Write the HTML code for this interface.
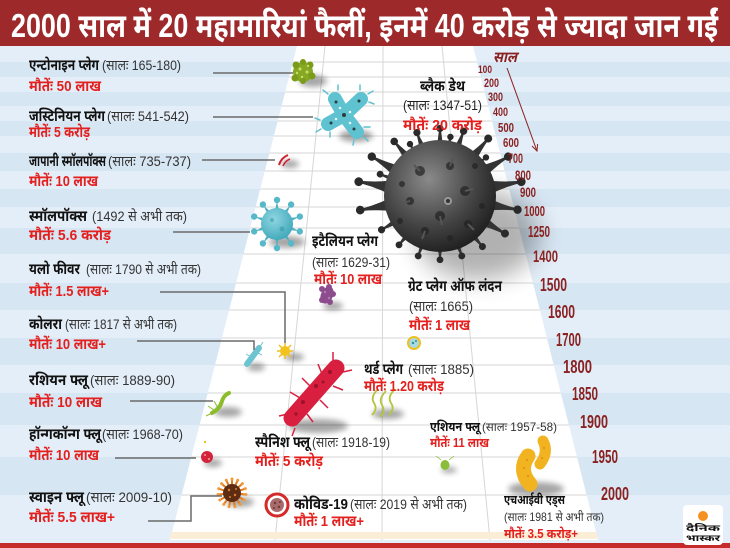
<!DOCTYPE html>
<html><head><meta charset="utf-8"><style>
html,body{margin:0;padding:0;background:#dfebf6;}
svg{display:block;}
text{font-family:"Liberation Sans","Noto Sans Devanagari","Lohit Devanagari",sans-serif;}
.n{font-weight:bold;fill:#111;font-size:15px;}
.p{fill:#333;font-size:14px;}
.d{font-weight:bold;fill:#e3201e;font-size:15px;}
.y{font-weight:bold;fill:#8a2222;}
</style></head><body>
<svg width="730" height="548" viewBox="0 0 730 548" xmlns="http://www.w3.org/2000/svg">
<defs>
<filter id="bl" x="-50%" y="-50%" width="200%" height="200%"><feGaussianBlur stdDeviation="3"/></filter>
<filter id="bl2" x="-50%" y="-50%" width="200%" height="200%"><feGaussianBlur stdDeviation="12"/></filter>
<clipPath id="road"><polygon points="297,46 473,46 598,540 170,540"/></clipPath>
<radialGradient id="bd" cx="0.4" cy="0.35" r="0.7"><stop offset="0" stop-color="#8a8a8a"/><stop offset="0.6" stop-color="#444"/><stop offset="1" stop-color="#1c1c1c"/></radialGradient>
<radialGradient id="cy" cx="0.4" cy="0.35" r="0.7"><stop offset="0" stop-color="#8fd6e2"/><stop offset="1" stop-color="#3fa7b9"/></radialGradient>
<g id="sp"><path d="M-5,-50 Q-2,-62 -1,-74 L1,-74 Q2,-62 5,-50 Z" fill="#333"/><circle cx="0" cy="-75" r="4" fill="#2a2a2a"/></g>
<g id="sps"><path d="M-2,-13 L0,-23 L2,-13 Z" fill="#4fb0c2"/><circle cx="0" cy="-24" r="3.2" fill="#56b8c8"/></g>
<g id="spw"><line x1="0" y1="-8" x2="0" y2="-14" stroke="#e07b22" stroke-width="2"/><circle cx="0" cy="-14" r="1.5" fill="#f29a35"/></g>
</defs>

<!-- background stripes -->
<rect x="0" y="46" width="730" height="502" fill="#e4eef8"/>
<g fill="#d7e6f3">
<rect x="0" y="62" width="730" height="15"/>
<rect x="0" y="92" width="730" height="14"/>
<rect x="0" y="121" width="730" height="15"/>
<rect x="0" y="153" width="730" height="18"/>
<rect x="0" y="189" width="730" height="18"/>
<rect x="0" y="228" width="730" height="26"/>
<rect x="0" y="283" width="730" height="27"/>
<rect x="0" y="338" width="730" height="27"/>
<rect x="0" y="393" width="730" height="32"/>
<rect x="0" y="457" width="730" height="38"/>
</g>

<!-- road -->
<polygon points="297,46 473,46 598,540 170,540" fill="#ffffff"/>
<g clip-path="url(#road)" stroke="#d6d6d6" stroke-width="1">
<line x1="0" y1="62" x2="730" y2="62"/><line x1="0" y1="77" x2="730" y2="77"/>
<line x1="0" y1="92" x2="730" y2="92"/><line x1="0" y1="106" x2="730" y2="106"/>
<line x1="0" y1="121" x2="730" y2="121"/><line x1="0" y1="136" x2="730" y2="136"/>
<line x1="0" y1="153" x2="730" y2="153"/><line x1="0" y1="171" x2="730" y2="171"/>
<line x1="0" y1="189" x2="730" y2="189"/><line x1="0" y1="207" x2="730" y2="207"/>
<line x1="0" y1="228" x2="730" y2="228"/><line x1="0" y1="254" x2="730" y2="254"/>
<line x1="0" y1="283" x2="730" y2="283"/><line x1="0" y1="310" x2="730" y2="310"/>
<line x1="0" y1="338" x2="730" y2="338"/><line x1="0" y1="365" x2="730" y2="365"/>
<line x1="0" y1="393" x2="730" y2="393"/><line x1="0" y1="425" x2="730" y2="425"/>
<line x1="0" y1="457" x2="730" y2="457"/><line x1="0" y1="495" x2="730" y2="495"/>
<line x1="325" y1="46" x2="275" y2="540"/><line x1="383" y1="46" x2="382" y2="540"/><line x1="442" y1="46" x2="490" y2="540"/>
</g>
<polygon points="171.5,532 596,532 597.7,539 169.7,539" fill="#fbedd6"/>
<rect x="0" y="543" width="730" height="5" fill="#c62b2b"/>

<!-- header -->
<rect x="0" y="0" width="730" height="46" fill="#9e292b"/>
<text x="11" y="37" font-size="33" font-weight="bold" fill="#ffffff" textLength="707" lengthAdjust="spacingAndGlyphs">2000 साल में 20 महामारियां फैलीं, इनमें 40 करोड़ से ज्यादा जान गईं</text>

<!-- shadows -->
<g fill="#000" opacity="0.35" filter="url(#bl)">
<ellipse cx="313" cy="81" rx="14" ry="6"/>
<ellipse cx="356" cy="136" rx="17" ry="6"/>
<ellipse cx="290" cy="164" rx="9" ry="4"/>
<ellipse cx="287" cy="242" rx="18" ry="6"/>
<ellipse cx="333" cy="306" rx="10" ry="4"/>
<ellipse cx="294" cy="357" rx="10" ry="4"/>
<ellipse cx="256" cy="367" rx="9" ry="4"/>
<ellipse cx="318" cy="426" rx="30" ry="7"/>
<ellipse cx="388" cy="414" rx="16" ry="5"/>
<ellipse cx="228" cy="412" rx="14" ry="5"/>
<ellipse cx="213" cy="463" rx="9" ry="4"/>
<ellipse cx="449" cy="470" rx="8" ry="3"/>
<ellipse cx="536" cy="489" rx="28" ry="7"/>
<ellipse cx="240" cy="502" rx="14" ry="5"/>
</g>
<ellipse cx="478" cy="235" rx="62" ry="45" fill="#000" opacity="0.3" filter="url(#bl2)"/>

<!-- black death -->
<g transform="translate(440,196)">
<use href="#sp" transform="rotate(0) scale(0.9)"/><use href="#sp" transform="rotate(20) scale(0.92)"/>
<use href="#sp" transform="rotate(40) scale(1)"/><use href="#sp" transform="rotate(60) scale(1.05)"/>
<use href="#sp" transform="rotate(80) scale(1.1)"/><use href="#sp" transform="rotate(100) scale(1.05)"/>
<use href="#sp" transform="rotate(120) scale(1)"/><use href="#sp" transform="rotate(140) scale(0.88)"/>
<use href="#sp" transform="rotate(160) scale(0.85)"/><use href="#sp" transform="rotate(180) scale(0.85)"/>
<use href="#sp" transform="rotate(200) scale(0.85)"/><use href="#sp" transform="rotate(220) scale(0.85)"/>
<use href="#sp" transform="rotate(240) scale(0.9)"/><use href="#sp" transform="rotate(260) scale(1.08)"/>
<use href="#sp" transform="rotate(280) scale(1.1)"/><use href="#sp" transform="rotate(300) scale(1.05)"/>
<use href="#sp" transform="rotate(320) scale(0.95)"/><use href="#sp" transform="rotate(340) scale(0.9)"/>
<use href="#sp" transform="rotate(10) scale(0.8)"/><use href="#sp" transform="rotate(50) scale(0.8)"/>
<use href="#sp" transform="rotate(290) scale(0.85)"/><use href="#sp" transform="rotate(330) scale(0.8)"/>
<circle cx="0" cy="0" r="56" fill="url(#bd)"/>
<g fill="#222" opacity="0.7">
<circle cx="-20" cy="-25" r="5"/><circle cx="10" cy="-30" r="4"/><circle cx="25" cy="-5" r="5"/>
<circle cx="-30" cy="5" r="4"/><circle cx="0" cy="20" r="5"/><circle cx="-15" cy="35" r="4"/>
<circle cx="28" cy="28" r="4"/><circle cx="-38" cy="-12" r="3"/><circle cx="35" cy="-30" r="3"/>
<circle cx="-40" cy="25" r="3"/><circle cx="42" cy="10" r="3"/><circle cx="10" cy="42" r="3"/>
</g>
<g stroke="#555" stroke-width="2" fill="none">
<path d="M-20,-25 l-6,-6"/><path d="M10,-30 l3,-8"/><path d="M25,-5 l8,-2"/><path d="M0,20 l2,9"/>
<path d="M-30,5 l-8,2"/><path d="M28,28 l6,6"/><path d="M-15,35 l-3,8"/>
</g>
<circle cx="8" cy="5" r="4" fill="#999"/><circle cx="8" cy="5" r="2" fill="#333"/>
</g>

<!-- Antonine -->
<g>
<circle cx="303" cy="72" r="10" fill="#86a822"/>
<g fill="#7b9b1a"><circle cx="296" cy="65" r="3.5"/><circle cx="310" cy="65" r="3.5"/><circle cx="312" cy="76" r="3.5"/><circle cx="295" cy="78" r="3.5"/><circle cx="303" cy="81" r="3"/><circle cx="303" cy="62" r="3"/></g>
<g fill="#c8de6a"><circle cx="300" cy="69" r="1.5"/><circle cx="307" cy="72" r="1.5"/><circle cx="302" cy="77" r="1.2"/><circle cx="297" cy="73" r="1.2"/><circle cx="308" cy="66" r="1.2"/></g>
</g>

<!-- Justinian -->
<g stroke="#5ec2d0" stroke-linecap="round">
<line x1="344" y1="115" x2="335" y2="99" stroke-width="14"/>
<line x1="344" y1="115" x2="361" y2="99" stroke-width="14"/>
<line x1="344" y1="115" x2="328" y2="124" stroke-width="14"/>
<line x1="344" y1="115" x2="357" y2="132" stroke-width="14"/>
<g stroke-width="1.5">
<line x1="328" y1="94" x2="323" y2="90"/><line x1="338" y1="90" x2="338" y2="85"/><line x1="360" y1="90" x2="360" y2="85"/>
<line x1="368" y1="94" x2="373" y2="91"/><line x1="369" y1="102" x2="374" y2="104"/><line x1="320" y1="120" x2="315" y2="118"/>
<line x1="321" y1="129" x2="316" y2="132"/><line x1="330" y1="132" x2="330" y2="137"/><line x1="364" y1="137" x2="368" y2="141"/>
<line x1="354" y1="140" x2="353" y2="145"/><line x1="364" y1="127" x2="370" y2="127"/><line x1="352" y1="104" x2="356" y2="100"/>
</g>
</g>
<circle cx="344" cy="115" r="9" fill="#5ec2d0"/>
<g fill="#2d3a40"><circle cx="344" cy="115" r="2"/><circle cx="336" cy="102" r="1.5"/><circle cx="359" cy="101" r="1.5"/><circle cx="331" cy="123" r="1.5"/><circle cx="354" cy="129" r="1.5"/></g>
<g fill="#e8f8fa"><circle cx="340" cy="108" r="1.3"/><circle cx="350" cy="112" r="1.3"/><circle cx="336" cy="119" r="1.3"/><circle cx="350" cy="123" r="1.3"/></g>

<!-- Japanese smallpox -->
<path d="M279,165 q2,-7 9,-10" stroke="#d21f30" stroke-width="2" fill="none"/>
<path d="M283,166 q2,-5 7,-7" stroke="#d21f30" stroke-width="1.5" fill="none"/>

<!-- Smallpox -->
<g transform="translate(277,224)">
<use href="#sps" transform="rotate(0)"/><use href="#sps" transform="rotate(36)"/><use href="#sps" transform="rotate(72)"/>
<use href="#sps" transform="rotate(108)"/><use href="#sps" transform="rotate(144)"/><use href="#sps" transform="rotate(180)"/>
<use href="#sps" transform="rotate(216)"/><use href="#sps" transform="rotate(252)"/><use href="#sps" transform="rotate(288)"/><use href="#sps" transform="rotate(324)"/>
<circle cx="0" cy="0" r="16" fill="url(#cy)"/>
<circle cx="-5" cy="-4" r="2" fill="#3a98aa" opacity="0.6"/><circle cx="5" cy="5" r="2.5" fill="#3a98aa" opacity="0.6"/>
</g>

<!-- Italian plague -->
<g fill="#8c4c8e">
<ellipse cx="327" cy="295" rx="6" ry="9" transform="rotate(25 327 295)"/>
<circle cx="322" cy="289" r="3"/><circle cx="329" cy="287" r="3"/><circle cx="333" cy="294" r="3"/><circle cx="330" cy="302" r="3"/><circle cx="322" cy="300" r="3"/>
</g>
<g fill="#b27bb3"><circle cx="325" cy="292" r="1.2"/><circle cx="329" cy="298" r="1.2"/></g>

<!-- Great plague London -->
<circle cx="414" cy="343" r="6" fill="#a6dbe4" stroke="#f0c020" stroke-width="2"/>
<circle cx="413" cy="343" r="1.2" fill="#3b8a98"/><circle cx="416" cy="341" r="1" fill="#3b8a98"/>

<!-- Yellow fever -->
<g stroke="#f0be18" stroke-width="1.5">
<line x1="285" y1="343" x2="285" y2="359"/><line x1="277" y1="351" x2="293" y2="351"/><line x1="279" y1="345" x2="291" y2="357"/><line x1="291" y1="345" x2="279" y2="357"/>
</g>
<circle cx="285" cy="351" r="5" fill="#f3c21b"/>

<!-- Cholera -->
<line x1="247" y1="364" x2="259" y2="348" stroke="#6cc4d1" stroke-width="6" stroke-linecap="round"/>
<g stroke="#6cc4d1" stroke-width="1"><line x1="259" y1="348" x2="263" y2="342"/><line x1="256" y1="352" x2="262" y2="355"/><line x1="251" y1="357" x2="246" y2="354"/></g>

<!-- Spanish flu -->
<g stroke="#d81f40" stroke-width="1.5">
<line x1="300" y1="398" x2="290" y2="392"/><line x1="310" y1="386" x2="302" y2="378"/><line x1="322" y1="374" x2="318" y2="364"/>
<line x1="333" y1="362" x2="333" y2="352"/><line x1="343" y1="372" x2="352" y2="370"/><line x1="333" y1="386" x2="343" y2="390"/>
<line x1="320" y1="400" x2="328" y2="408"/><line x1="307" y1="414" x2="313" y2="422"/><line x1="288" y1="414" x2="279" y2="416"/>
<line x1="295" y1="428" x2="292" y2="436"/>
</g>
<line x1="292" y1="418" x2="336" y2="368" stroke="#d81f40" stroke-width="17" stroke-linecap="round"/>
<g fill="#a01028"><circle cx="330" cy="372" r="2"/><circle cx="316" cy="386" r="2"/><circle cx="303" cy="402" r="2"/><circle cx="296" cy="414" r="1.6"/><circle cx="323" cy="382" r="1.5"/></g>

<!-- Third plague -->
<g stroke="#b3c63c" stroke-width="1.8" fill="none">
<path d="M372,415 q6,-6 2,-12 q-4,-6 4,-14"/>
<path d="M380,417 q6,-6 2,-12 q-4,-6 4,-14"/>
<path d="M389,415 q6,-6 2,-12 q-4,-6 4,-14"/>
</g>

<!-- Russian flu -->
<path d="M212,413 q8,-4 10,-12 q2,-6 7,-8" stroke="#8bbd2a" stroke-width="4" fill="none" stroke-linecap="round"/>
<g stroke="#8bbd2a" stroke-width="1"><line x1="214" y1="410" x2="208" y2="406"/><line x1="218" y1="408" x2="214" y2="401"/><line x1="212" y1="413" x2="206" y2="416"/></g>

<!-- Hong Kong -->
<circle cx="205" cy="442" r="1.2" fill="#f0c020"/>
<circle cx="207" cy="457" r="6" fill="#d4233a"/>
<g fill="#f0a0a0"><circle cx="205" cy="455" r="1"/><circle cx="209" cy="459" r="1"/></g>

<!-- Asian flu -->
<g stroke="#8cbd3a" stroke-width="0.8"><line x1="441" y1="460" x2="436" y2="456"/><line x1="449" y1="460" x2="454" y2="456"/></g>
<ellipse cx="445" cy="465" rx="4.5" ry="5" fill="#8cbd3a"/>

<!-- HIV -->
<path d="M528,456 Q518,470 530,484" stroke="#f2b320" stroke-width="15" fill="none" stroke-linecap="round"/>
<path d="M543,441 Q549,452 540,464" stroke="#f2b320" stroke-width="11" fill="none" stroke-linecap="round"/>
<g fill="#e08a1a"><circle cx="524" cy="468" r="1"/><circle cx="528" cy="476" r="1"/><circle cx="527" cy="460" r="1"/><circle cx="544" cy="448" r="1"/><circle cx="542" cy="458" r="1"/></g>

<!-- Swine flu -->
<g transform="translate(232,493)">
<use href="#spw" transform="rotate(0)"/><use href="#spw" transform="rotate(24)"/><use href="#spw" transform="rotate(48)"/>
<use href="#spw" transform="rotate(72)"/><use href="#spw" transform="rotate(96)"/><use href="#spw" transform="rotate(120)"/>
<use href="#spw" transform="rotate(144)"/><use href="#spw" transform="rotate(168)"/><use href="#spw" transform="rotate(192)"/>
<use href="#spw" transform="rotate(216)"/><use href="#spw" transform="rotate(240)"/><use href="#spw" transform="rotate(264)"/>
<use href="#spw" transform="rotate(288)"/><use href="#spw" transform="rotate(312)"/><use href="#spw" transform="rotate(336)"/>
<circle cx="0" cy="0" r="9" fill="#5e2c12"/>
<g fill="#e0802a"><circle cx="-3" cy="-3" r="1.2"/><circle cx="3" cy="2" r="1.2"/><circle cx="-2" cy="4" r="1"/><circle cx="4" cy="-4" r="1"/></g>
</g>

<!-- Covid -->
<circle cx="277" cy="505" r="11" fill="#fff" stroke="#d42a2a" stroke-width="3"/>
<circle cx="277" cy="505" r="7" fill="#a86a6a"/>
<g fill="#6d3a3a"><circle cx="275" cy="503" r="1.2"/><circle cx="279" cy="507" r="1.2"/><circle cx="280" cy="502" r="1"/><circle cx="274" cy="508" r="1"/></g>

<!-- connectors -->
<g stroke="#6a6a6a" stroke-width="1.5" fill="none">
<line x1="213" y1="73" x2="293" y2="73"/>
<line x1="213" y1="117" x2="313" y2="117"/>
<line x1="202" y1="160" x2="275" y2="160"/>
<line x1="173" y1="232" x2="250" y2="232"/>
<polyline points="160,292 285,292 285,343"/>
<polyline points="137,341 254,341 254,350"/>
<line x1="130" y1="401" x2="213" y2="401"/>
<line x1="115" y1="458" x2="196" y2="458"/>
<polyline points="148,521 191,521 191,496 222,496"/>
</g>

<!-- left labels -->
<text class="n" x="29" y="70" textLength="70" lengthAdjust="spacingAndGlyphs">एन्टोनाइन प्लेग</text>
<text class="p" x="102" y="70" textLength="79" lengthAdjust="spacingAndGlyphs">(सालः 165-180)</text>
<text class="d" x="29" y="91" textLength="72" lengthAdjust="spacingAndGlyphs">मौतेंः 50 लाख</text>

<text class="n" x="29" y="121" textLength="76" lengthAdjust="spacingAndGlyphs">जस्टिनियन प्लेग</text>
<text class="p" x="107" y="121" textLength="82" lengthAdjust="spacingAndGlyphs">(सालः 541-542)</text>
<text class="d" x="29" y="137" textLength="61" lengthAdjust="spacingAndGlyphs">मौतेंः 5 करोड़</text>

<text class="n" x="29" y="166" textLength="77" lengthAdjust="spacingAndGlyphs">जापानी स्मॉलपॉक्स</text>
<text class="p" x="108" y="166" textLength="83" lengthAdjust="spacingAndGlyphs">(सालः 735-737)</text>
<text class="d" x="29" y="186" textLength="69" lengthAdjust="spacingAndGlyphs">मौतेंः 10 लाख</text>

<text class="n" x="29" y="221" textLength="58" lengthAdjust="spacingAndGlyphs">स्मॉलपॉक्स</text>
<text class="p" x="92" y="221" textLength="95" lengthAdjust="spacingAndGlyphs">(1492 से अभी तक)</text>
<text class="d" x="29" y="240" textLength="82" lengthAdjust="spacingAndGlyphs">मौतेंः 5.6 करोड़</text>

<text class="n" x="29" y="274" textLength="51" lengthAdjust="spacingAndGlyphs">यलो फीवर</text>
<text class="p" x="86" y="274" textLength="115" lengthAdjust="spacingAndGlyphs">(सालः 1790 से अभी तक)</text>
<text class="d" x="29" y="296" textLength="80" lengthAdjust="spacingAndGlyphs">मौतेंः 1.5 लाख+</text>

<text class="n" x="29" y="329" textLength="33" lengthAdjust="spacingAndGlyphs">कोलरा</text>
<text class="p" x="65" y="329" textLength="112" lengthAdjust="spacingAndGlyphs">(सालः 1817 से अभी तक)</text>
<text class="d" x="29" y="349" textLength="77" lengthAdjust="spacingAndGlyphs">मौतेंः 10 लाख+</text>

<text class="n" x="29" y="385" textLength="59" lengthAdjust="spacingAndGlyphs">रशियन फ्लू</text>
<text class="p" x="90" y="385" textLength="85" lengthAdjust="spacingAndGlyphs">(सालः 1889-90)</text>
<text class="d" x="29" y="407" textLength="73" lengthAdjust="spacingAndGlyphs">मौतेंः 10 लाख</text>

<text class="n" x="29" y="439" textLength="72" lengthAdjust="spacingAndGlyphs">हॉन्गकॉन्ग फ्लू</text>
<text class="p" x="102" y="439" textLength="81" lengthAdjust="spacingAndGlyphs">(सालः 1968-70)</text>
<text class="d" x="29" y="460" textLength="70" lengthAdjust="spacingAndGlyphs">मौतेंः 10 लाख</text>

<text class="n" x="29" y="502" textLength="55" lengthAdjust="spacingAndGlyphs">स्वाइन फ्लू</text>
<text class="p" x="86" y="502" textLength="86" lengthAdjust="spacingAndGlyphs">(सालः 2009-10)</text>
<text class="d" x="29" y="522" textLength="86" lengthAdjust="spacingAndGlyphs">मौतेंः 5.5 लाख+</text>

<!-- middle labels -->
<text class="n" x="420" y="91" textLength="45" lengthAdjust="spacingAndGlyphs">ब्लैक डेथ</text>
<text class="p" x="403" y="110" textLength="79" lengthAdjust="spacingAndGlyphs" style="fill:#222">(सालः 1347-51)</text>
<text class="d" x="403" y="130" textLength="79" lengthAdjust="spacingAndGlyphs">मौतेंः 20 करोड़</text>

<text class="n" x="312" y="246" textLength="66" lengthAdjust="spacingAndGlyphs">इटैलियन प्लेग</text>
<text class="p" x="312" y="267" textLength="78" lengthAdjust="spacingAndGlyphs">(सालः 1629-31)</text>
<text class="d" x="314" y="284" textLength="68" lengthAdjust="spacingAndGlyphs">मौतेंः 10 लाख</text>

<text class="n" x="408" y="291" textLength="94" lengthAdjust="spacingAndGlyphs">ग्रेट प्लेग ऑफ लंदन</text>
<text class="p" x="409" y="311" textLength="64" lengthAdjust="spacingAndGlyphs">(सालः 1665)</text>
<text class="d" x="409" y="330" textLength="61" lengthAdjust="spacingAndGlyphs">मौतेंः 1 लाख</text>

<text class="n" x="364" y="374" textLength="39" lengthAdjust="spacingAndGlyphs">थर्ड प्लेग</text>
<text class="p" x="408" y="374" textLength="66" lengthAdjust="spacingAndGlyphs">(सालः 1885)</text>
<text class="d" x="364" y="391" textLength="80" lengthAdjust="spacingAndGlyphs">मौतेंः 1.20 करोड़</text>

<text class="n" x="255" y="447" textLength="55" lengthAdjust="spacingAndGlyphs">स्पैनिश फ्लू</text>
<text class="p" x="312" y="447" textLength="78" lengthAdjust="spacingAndGlyphs">(सालः 1918-19)</text>
<text class="d" x="255" y="466" textLength="68" lengthAdjust="spacingAndGlyphs">मौतेंः 5 करोड़</text>

<text class="n" x="294" y="509" textLength="54" lengthAdjust="spacingAndGlyphs">कोविड-19</text>
<text class="p" x="350" y="509" textLength="117" lengthAdjust="spacingAndGlyphs">(सालः 2019 से अभी तक)</text>
<text class="d" x="294" y="526" textLength="70" lengthAdjust="spacingAndGlyphs">मौतेंः 1 लाख+</text>

<text class="n" x="430" y="431" textLength="50" lengthAdjust="spacingAndGlyphs" style="font-size:13px">एशियन फ्लू</text>
<text class="p" x="482" y="431" textLength="75" lengthAdjust="spacingAndGlyphs" style="font-size:12px">(सालः 1957-58)</text>
<text class="d" x="430" y="447" textLength="59" lengthAdjust="spacingAndGlyphs" style="font-size:13px">मौतेंः 11 लाख</text>

<text class="n" x="504" y="504" textLength="61" lengthAdjust="spacingAndGlyphs" style="font-size:13px">एचआईवी एड्स</text>
<text class="p" x="504" y="521" textLength="100" lengthAdjust="spacingAndGlyphs" style="font-size:12px">(सालः 1981 से अभी तक)</text>
<text class="d" x="504" y="538" textLength="74" lengthAdjust="spacingAndGlyphs" style="font-size:13px">मौतेंः 3.5 करोड़+</text>

<!-- year axis -->
<text class="y" x="493" y="62" font-size="15" font-style="italic" textLength="24" lengthAdjust="spacingAndGlyphs">साल</text>
<text class="y" x="478" y="73" font-size="11" textLength="14" lengthAdjust="spacingAndGlyphs">100</text>
<text class="y" x="484" y="87" font-size="11.5" textLength="15" lengthAdjust="spacingAndGlyphs">200</text>
<text class="y" x="488" y="101" font-size="11.5" textLength="15" lengthAdjust="spacingAndGlyphs">300</text>
<text class="y" x="493" y="116" font-size="12" textLength="15" lengthAdjust="spacingAndGlyphs">400</text>
<text class="y" x="498" y="132" font-size="12.5" textLength="16" lengthAdjust="spacingAndGlyphs">500</text>
<text class="y" x="503" y="147" font-size="13" textLength="16" lengthAdjust="spacingAndGlyphs">600</text>
<text class="y" x="508" y="163" font-size="13.5" textLength="15" lengthAdjust="spacingAndGlyphs">700</text>
<text class="y" x="515" y="180" font-size="14" textLength="16" lengthAdjust="spacingAndGlyphs">800</text>
<text class="y" x="520" y="197" font-size="14" textLength="16" lengthAdjust="spacingAndGlyphs">900</text>
<text class="y" x="524" y="216" font-size="15" textLength="21" lengthAdjust="spacingAndGlyphs">1000</text>
<text class="y" x="528" y="237" font-size="16" textLength="22" lengthAdjust="spacingAndGlyphs">1250</text>
<text class="y" x="533" y="262" font-size="16.5" textLength="25" lengthAdjust="spacingAndGlyphs">1400</text>
<text class="y" x="540" y="291" font-size="18" textLength="27" lengthAdjust="spacingAndGlyphs">1500</text>
<text class="y" x="548" y="318" font-size="18" textLength="27" lengthAdjust="spacingAndGlyphs">1600</text>
<text class="y" x="556" y="346" font-size="18" textLength="25" lengthAdjust="spacingAndGlyphs">1700</text>
<text class="y" x="563" y="373" font-size="18.5" textLength="29" lengthAdjust="spacingAndGlyphs">1800</text>
<text class="y" x="572" y="400" font-size="18.5" textLength="26" lengthAdjust="spacingAndGlyphs">1850</text>
<text class="y" x="580" y="428" font-size="18.5" textLength="28" lengthAdjust="spacingAndGlyphs">1900</text>
<text class="y" x="592" y="463" font-size="18.5" textLength="26" lengthAdjust="spacingAndGlyphs">1950</text>
<text class="y" x="601" y="500" font-size="18.5" textLength="28" lengthAdjust="spacingAndGlyphs">2000</text>
<path d="M507,68 L537,151" stroke="#8a2222" stroke-width="1" fill="none"/>
<path d="M532,146 L537,151 L537.6,144" stroke="#8a2222" stroke-width="1" fill="none"/>

<!-- logo -->
<rect x="683" y="505" width="40" height="40" rx="4" fill="#ffffff"/>
<circle cx="703" cy="516" r="5" fill="#f39221"/>
<text x="686" y="531" font-size="9" font-weight="bold" fill="#111" textLength="34" lengthAdjust="spacingAndGlyphs">दैनिक</text>
<text x="686" y="541" font-size="9" font-weight="bold" fill="#111" textLength="34" lengthAdjust="spacingAndGlyphs">भास्कर</text>
</svg>
</body></html>
